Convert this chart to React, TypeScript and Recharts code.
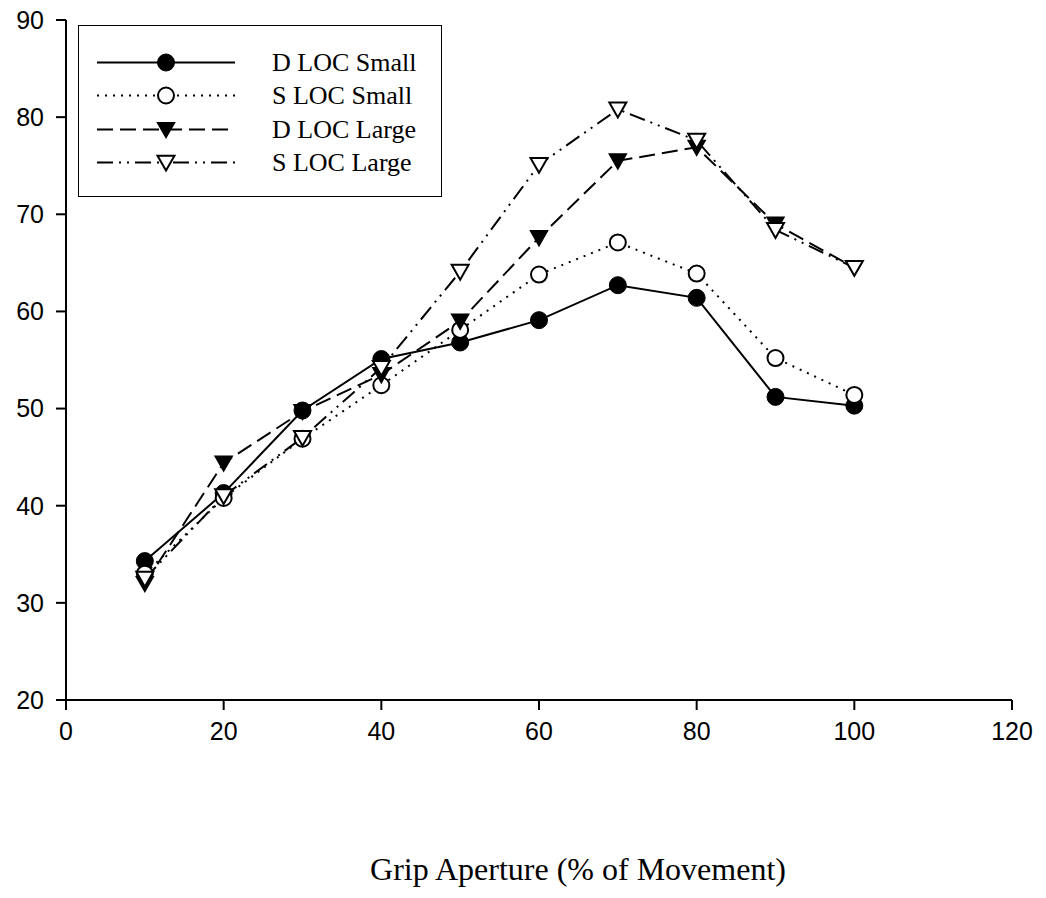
import React from 'react'
import { LineChart, Line, XAxis, YAxis, Legend } from 'recharts'

const gripPct = [10, 20, 30, 40, 50, 60, 70, 80, 90, 100]
const dLocSmall = [34.3, 41.3, 49.8, 55.1, 56.8, 59.1, 62.7, 61.4, 51.2, 50.3]
const sLocSmall = [33.0, 40.8, 46.9, 52.4, 58.1, 63.8, 67.1, 63.9, 55.2, 51.4]
const dLocLarge = [32.0, 44.4, 49.7, 53.5, 59.0, 67.6, 75.5, 76.9, 69.0, 64.5]
const sLocLarge = [32.5, 41.0, 47.0, 54.2, 64.1, 75.1, 80.8, 77.6, 68.4, 64.5]

const xTicks = [0, 20, 40, 60, 80, 100, 120]
const yTicks = [20, 30, 40, 50, 60, 70, 80, 90]

const data = gripPct.map((g, i) => ({
  grip: g,
  dSmall: dLocSmall[i],
  sSmall: sLocSmall[i],
  dLarge: dLocLarge[i],
  sLarge: sLocLarge[i]
}))

type MarkerKind = 'circle' | 'openCircle' | 'triangle' | 'openTriangle'

const series: { key: string; name: string; dash?: string; marker: MarkerKind }[] = [
  { key: 'dSmall', name: 'D LOC Small', marker: 'circle' },
  { key: 'sSmall', name: 'S LOC Small', dash: '2 6', marker: 'openCircle' },
  { key: 'dLarge', name: 'D LOC Large', dash: '16 7', marker: 'triangle' },
  { key: 'sLarge', name: 'S LOC Large', dash: '16 6 2 6 2 6', marker: 'openTriangle' }
]

function Marker({ kind, cx, cy }: { kind: MarkerKind; cx: number; cy: number }) {
  if (cx == null || cy == null) return null
  if (kind === 'circle') return <circle cx={cx} cy={cy} r={8.5} fill="#000" stroke="#000" strokeWidth={1} />
  if (kind === 'openCircle') return <circle cx={cx} cy={cy} r={8} fill="#fff" stroke="#000" strokeWidth={2} />
  const s = 8.5
  const d = `M${cx - s},${cy - s * 0.8} L${cx + s},${cy - s * 0.8} L${cx},${cy + s * 0.95} Z`
  if (kind === 'triangle') return <path d={d} fill="#000" stroke="#000" strokeWidth={1.5} strokeLinejoin="miter" />
  return <path d={d} fill="#fff" stroke="#000" strokeWidth={2} strokeLinejoin="miter" />
}

const tickStyle = { fontFamily: '"Liberation Sans", Arial, sans-serif', fontSize: 25, fill: '#000' }

function renderLegend() {
  return (
    <div
      style={{
        width: 362,
        height: 170,
        border: '1px solid #000',
        background: '#fff',
        boxSizing: 'content-box'
      }}
    >
      {series.map((s, i) => (
        <div
          key={s.key}
          style={{
            position: 'absolute',
            left: 0,
            top: 21 + i * 33.3,
            height: 33,
            display: 'flex',
            alignItems: 'center'
          }}
        >
          <svg width={190} height={33} style={{ display: 'block' }}>
            <line x1={19} x2={157} y1={16.5} y2={16.5} stroke="#000" strokeWidth={2} strokeDasharray={s.dash} />
            <Marker kind={s.marker} cx={88} cy={16.5} />
          </svg>
          <span
            style={{
              marginLeft: 4,
              fontFamily: '"Liberation Serif", "Times New Roman", serif',
              fontSize: 26,
              color: '#000',
              whiteSpace: 'nowrap',
              lineHeight: '33px'
            }}
          >
            {s.name}
          </span>
        </div>
      ))}
    </div>
  )
}

function XTitle(props: any) {
  const vb = props.viewBox
  return (
    <text
      x={vb.x + vb.width / 2 + 39}
      y={vb.y + 180}
      textAnchor="middle"
      fontFamily='"Liberation Serif", "Times New Roman", serif'
      fontSize={32}
      fill="#000"
    >
      Grip Aperture (% of Movement)
    </text>
  )
}

export default function App() {
  return (
    <div style={{ position: 'absolute', left: 0, top: 0, width: 1046, height: 898, background: '#fff' }}>
      <LineChart width={1046} height={898} data={data} margin={{ top: 20, right: 34, left: 0, bottom: 138 }}>
        <XAxis
          dataKey="grip"
          type="number"
          domain={[0, 120]}
          ticks={xTicks}
          height={60}
          tickSize={10}
          tickMargin={12}
          tick={tickStyle}
          stroke="#000"
          strokeWidth={2}
          tickLine={{ stroke: '#000', strokeWidth: 2 }}
          axisLine={{ stroke: '#000', strokeWidth: 2 }}
          label={<XTitle />}
        />
        <YAxis
          type="number"
          domain={[20, 90]}
          ticks={yTicks}
          width={66}
          tickSize={10}
          tickMargin={12}
          tick={tickStyle}
          stroke="#000"
          tickLine={{ stroke: '#000', strokeWidth: 2 }}
          axisLine={{ stroke: '#000', strokeWidth: 2 }}
        />
        <Legend
          layout="horizontal"
          verticalAlign="middle"
          align="center"
          content={renderLegend}
          wrapperStyle={{ position: 'absolute', left: 78, top: 25, width: 364, height: 172 }}
        />
        {series.map((s) => (
          <Line
            key={s.key}
            dataKey={s.key}
            name={s.name}
            type="linear"
            stroke="#000"
            strokeWidth={2}
            strokeDasharray={s.dash}
            isAnimationActive={false}
            dot={(p: any) => <Marker key={`${s.key}-${p.index}`} kind={s.marker} cx={p.cx} cy={p.cy} />}
            activeDot={false}
          />
        ))}
      </LineChart>
    </div>
  )
}
